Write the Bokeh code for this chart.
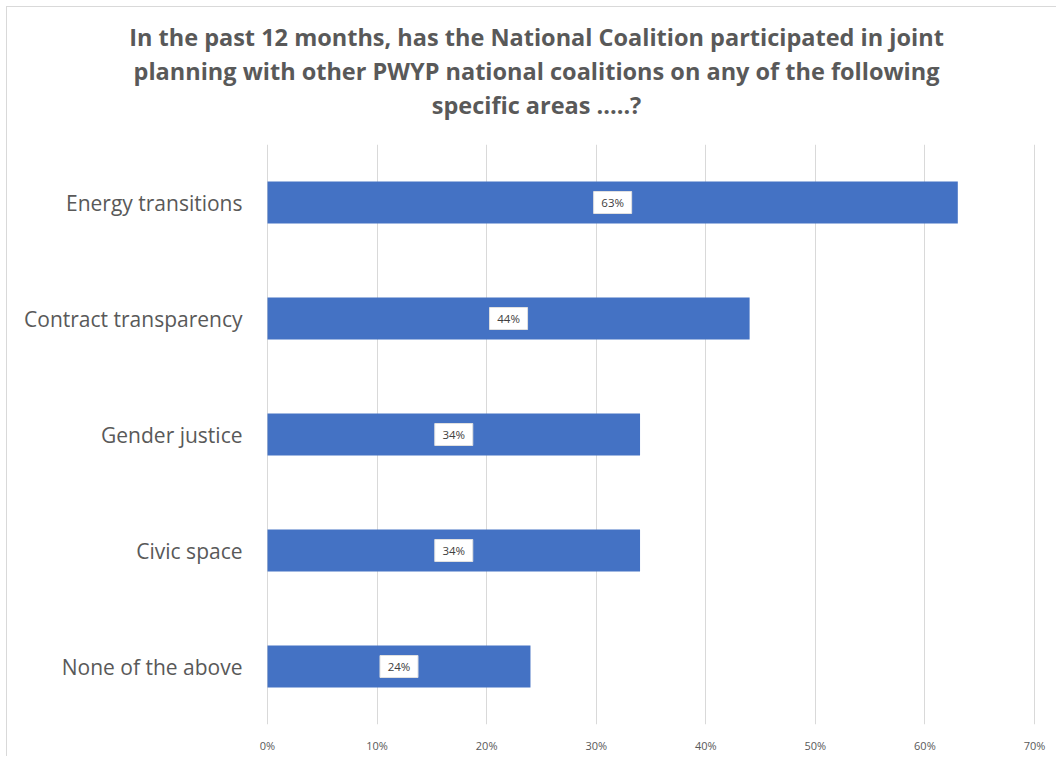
from bokeh.plotting import figure
from bokeh.models import ColumnDataSource, FactorRange, NumeralTickFormatter, FixedTicker, Title
from bokeh.core.properties import value
from bokeh.embed import file_html
from bokeh.resources import INLINE

categories = ["Energy transitions", "Contract transparency", "Gender justice", "Civic space", "None of the above"]
values = [0.63, 0.44, 0.34, 0.34, 0.24]
labels = ["63%", "44%", "34%", "34%", "24%"]
ticks = [0.0, 0.1, 0.2, 0.3, 0.4, 0.5, 0.6, 0.7]

title_lines = ["In the past 12 months, has the National Coalition participated in joint",
               "planning with other PWYP national coalitions on any of the following",
               "specific areas .....?"]

src = ColumnDataSource(dict(cat=categories, val=values, mid=[v / 2 for v in values], lab=labels,
                            zero=[0.0] * len(categories)))

# the frame also covers the category-label area, so the title centres over the whole chart
LEFT_PX, BAR_PX, RIGHT_PX = 252, 767, 23
per_px = 0.7 / BAR_PX
x_start = -LEFT_PX * per_px
x_end = 0.7 + RIGHT_PX * per_px

p = figure(width=1050, height=750, output_backend="svg", toolbar_location=None,
           y_range=FactorRange(*reversed(categories)), x_range=(x_start, x_end),
           min_border_left=8, min_border_right=0, min_border_top=137, min_border_bottom=33)
p.title.visible = False

# spacer between frame and title block
p.add_layout(Title(text=" ", text_font_size="1px", standoff=21), "above")
for line in reversed(title_lines):
    p.add_layout(Title(text=line, align="center", text_font="Open Sans", text_font_size="23.5px",
                       text_font_style="bold", text_color="#595959", standoff=0), "above")

p.hbar(y="cat", right="val", left=0, height=0.36, source=src, color="#4472C4", line_color=None)

p.rect(x="mid", y="cat", width=38, height=22, width_units="screen", height_units="screen",
       source=src, fill_color="white", line_color="#e0e0e0", line_width=1)
p.text(x="mid", y="cat", text="lab", source=src, text_align="center", text_baseline="middle",
       text_font=value("Open Sans"), text_font_size="11.5px", text_color="#404040")

p.text(x="zero", y="cat", text="cat", source=src, x_offset=-25, text_align="right",
       text_baseline="middle", text_font=value("Open Sans"), text_font_size="21px",
       text_color="#595959")

p.xaxis.ticker = FixedTicker(ticks=ticks)
p.xaxis.formatter = NumeralTickFormatter(format="0%")
p.xaxis.axis_line_color = None
p.xaxis.major_tick_line_color = None
p.xaxis.major_tick_out = 0
p.xaxis.major_tick_in = 0
p.xaxis.minor_tick_line_color = None
p.xaxis.major_label_text_font = "Open Sans"
p.xaxis.major_label_text_font_size = "11px"
p.xaxis.major_label_text_color = "#595959"
p.xaxis.major_label_standoff = 13
p.yaxis.visible = False

p.xgrid.ticker = FixedTicker(ticks=ticks)
p.xgrid.grid_line_color = "#d9d9d9"
p.ygrid.grid_line_color = None
p.outline_line_color = None
p.styles = {"margin-left": "6px", "margin-top": "6px",
            "border-top": "1px solid #d9d9d9", "border-left": "1px solid #d9d9d9"}

open("out.html", "w").write(file_html(p, INLINE))
